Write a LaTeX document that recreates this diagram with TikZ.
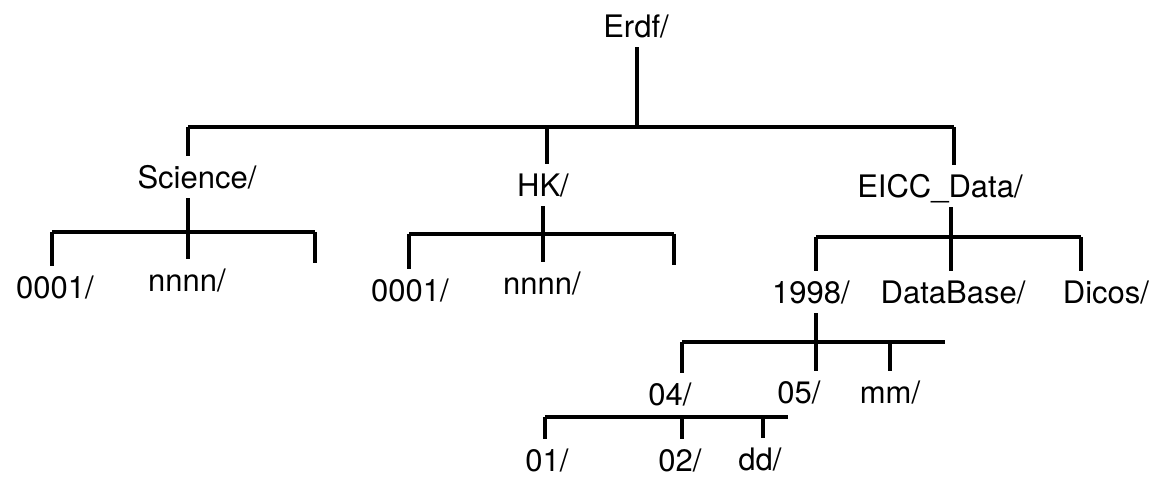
\documentclass[tikz,border=0pt]{standalone}
\usepackage{fontspec}
\setmainfont{TeX Gyre Heros}

\begin{document}
\begin{tikzpicture}[x=0.5pt, y=-0.5pt,
		dir/.style={font=\fontsize{15.5}{18}\selectfont, anchor=base, inner xsep=0pt, inner ysep=5pt, text height=11pt, text depth=0pt},
		branch/.style={line width=1.7pt}]
			\useasboundingbox (0,0) rectangle (1151,477);
			
			% Radice
			\node[dir] (erdf) at (636, 37) {Erdf/};
			
			% Primo livello
			\node[dir] (sci) at (197, 188) {Science/};
			\node[dir] (hk) at (543, 196) {HK/};
			\node[dir] (eicc) at (940, 197) {EICC\_Data/};
			
			% Cartelle di Science e HK
			\node[dir] (s01) at (55, 298) {0001/};
			\node[dir] (snn) at (187, 291) {nnnn/};
			\node[dir] (h01) at (410, 301) {0001/};
			\node[dir] (hnn) at (542, 294) {nnnn/};
			
			% Cartelle di EICC_Data
			\node[dir] (y98) at (811, 303) {1998/};
			\node[dir] (dbase) at (953, 303) {DataBase/};
			\node[dir] (dicos) at (1106, 303) {Dicos/};
			
			% Mesi
			\node[dir] (m04) at (670, 405) {04/};
			\node[dir] (m05) at (799, 403) {05/};
			\node[dir] (mmm) at (890, 403) {mm/};
			
			% Giorni
			\node[dir] (d01) at (547, 471) {01/};
			\node[dir] (d02) at (680, 471) {02/};
			\node[dir] (ddd) at (760, 470) {dd/};
			
			% Punti di giunzione
			\coordinate (r0) at (637, 127);
			\coordinate (r1) at (188, 127);
			\coordinate (r2) at (547, 127);
			\coordinate (r3) at (954, 127);
			\coordinate (s0) at (188, 232);
			\coordinate (s1) at (52, 232);
			\coordinate (s3) at (315, 232);
			\coordinate (s3e) at (315, 263);
			\coordinate (h0) at (543, 234);
			\coordinate (h1) at (409, 234);
			\coordinate (h3) at (674, 234);
			\coordinate (h3e) at (674, 265);
			\coordinate (e0) at (951, 237);
			\coordinate (e1) at (816, 237);
			\coordinate (e3) at (1081, 237);
			\coordinate (y0) at (816, 342);
			\coordinate (y1) at (682, 342);
			\coordinate (y3) at (890, 342);
			\coordinate (y4) at (945, 342);
			\coordinate (m1) at (545, 417);
			\coordinate (m2) at (682, 417);
			\coordinate (m3) at (763, 417);
			\coordinate (m4) at (788, 417);
			
			% Radice verso il primo livello
			\draw[branch] (erdf.south -| r0) -- (r0);
			\draw[branch] (r1) -- (r3);
			\draw[branch] (r1) -- (sci.north -| r1);
			\draw[branch] (r2) -- (hk.north -| r2);
			\draw[branch] (r3) -- (eicc.north -| r3);
			
			% Science
			\draw[branch] (sci.south -| s0) -- (s0);
			\draw[branch] (s1) -- (s3);
			\draw[branch] (s1) -- (s01.north -| s1);
			\draw[branch] (s0) -- (snn.north -| s0);
			\draw[branch] (s3) -- (s3e);
			
			% HK
			\draw[branch] (hk.south -| h0) -- (h0);
			\draw[branch] (h1) -- (h3);
			\draw[branch] (h1) -- (h01.north -| h1);
			\draw[branch] (h0) -- (hnn.north -| h0);
			\draw[branch] (h3) -- (h3e);
			
			% EICC_Data
			\draw[branch] (eicc.south -| e0) -- (e0);
			\draw[branch] (e1) -- (e3);
			\draw[branch] (e1) -- (y98.north -| e1);
			\draw[branch] (e0) -- (dbase.north -| e0);
			\draw[branch] (e3) -- (dicos.north -| e3);
			
			% 1998
			\draw[branch] (y98.south -| y0) -- (y0);
			\draw[branch] (y1) -- (y4);
			\draw[branch] (y1) -- (m04.north -| y1);
			\draw[branch] (y0) -- (m05.north -| y0);
			\draw[branch] (y3) -- (mmm.north -| y3);
			
			% 04
			\draw[branch] (m1) -- (m4);
			\draw[branch] (m1) -- (d01.north -| m1);
			\draw[branch] (m2) -- (d02.north -| m2);
			\draw[branch] (m3) -- (ddd.north -| m3);
		\end{tikzpicture}
\end{document}
